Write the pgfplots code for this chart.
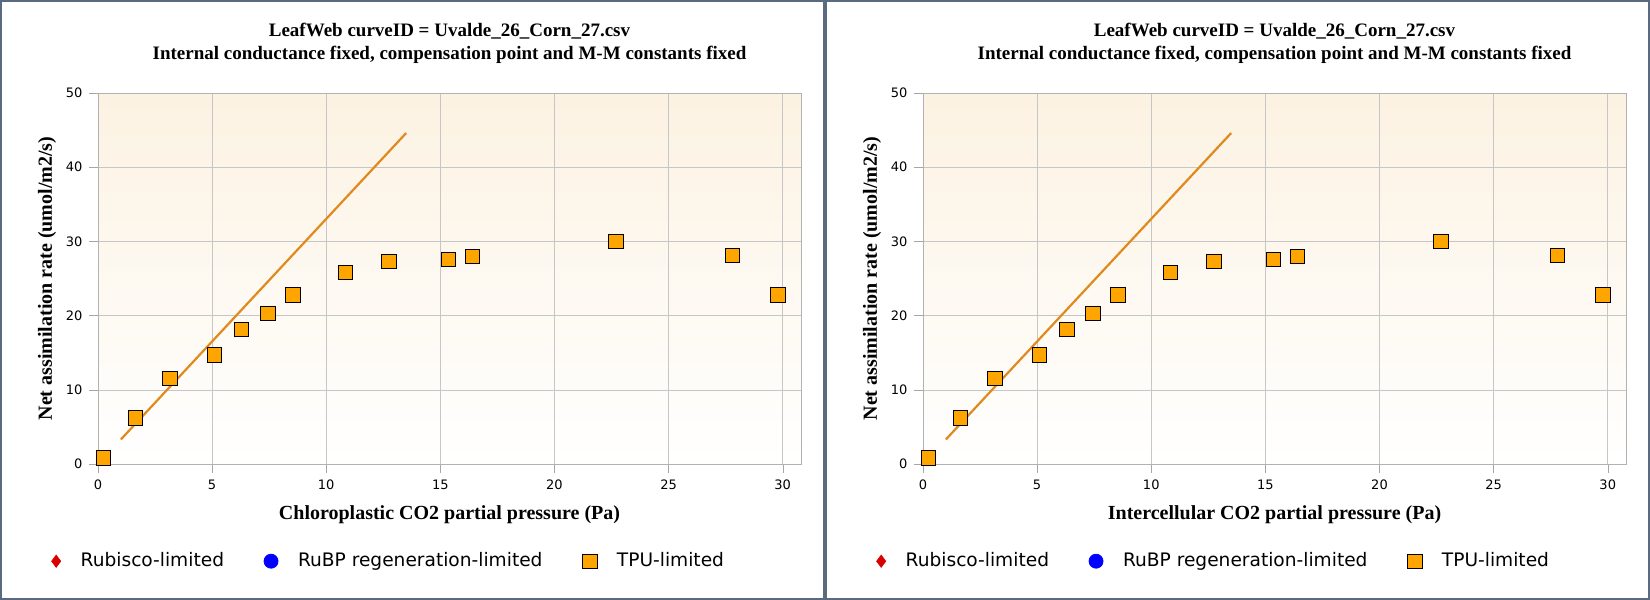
\documentclass[border=0pt]{standalone}
\usepackage{pgfplots}
\pgfplotsset{compat=1.18}
\usepackage{fontspec}
\setmainfont{Liberation Serif}
\newfontfamily\sans{DejaVu Sans}
\definecolor{frm}{HTML}{5A6A80}
\definecolor{ln}{HTML}{E08A1E}
\definecolor{sq}{HTML}{FFA500}
\definecolor{bg}{HTML}{FCF2E2}
\pgfplotstableread{
x y
0.25 0.8
1.65 6.2
3.15 11.5
5.1 14.7
6.3 18.1
7.45 20.3
8.55 22.8
10.85 25.8
12.75 27.3
15.35 27.6
16.4 28.0
22.7 30.0
27.8 28.1
29.8 22.8
}\pts
\pgfplotsset{myax/.style={
  scale only axis, width=351.5pt, height=185.5pt,
  xmin=0, xmax=30.8, ymin=0, ymax=50,
  xtick={0,5,...,30}, ytick={0,10,...,50},
  grid=major, grid style={gray!45, line width=0.3pt},
  axis line style={gray!60}, tick style={gray!70},
  tick align=outside, tick pos=left,
  ticklabel style={font=\sans\fontsize{6.5}{7}\selectfont},
  /pgf/number format/assume math mode=true,
  axis background/.style={top color=bg, bottom color=white},
  ylabel={\bfseries Net assimilation rate (umol/m2/s)},
  ylabel style={font=\fontsize{10}{11}\selectfont, yshift=-2pt},
  xlabel style={font=\fontsize{10}{11}\selectfont, yshift=-1pt},
  title style={font=\bfseries\fontsize{9.5}{11.5}\selectfont, align=center, yshift=5pt},
  title={LeafWeb curveID = Uvalde\_26\_Corn\_27.csv\\Internal conductance fixed, compensation point and M-M constants fixed},
  legend style={at={(-0.075,-0.262)}, anchor=west, draw=none, fill=none,
    font=\sans\fontsize{9.3}{10}\selectfont,
    /tikz/every odd column/.append style={column sep=8pt},
    /tikz/every even column/.append style={column sep=18pt}},
  legend columns=-1,
}}
\begin{document}
\begin{tikzpicture}[x=1pt,y=1pt]
\path[use as bounding box] (0,0) rectangle (825,300);
\draw[frm, line width=1pt] (0.5,0.5) rectangle (412,299.5);
\draw[frm, line width=1pt] (413,0.5) rectangle (824.5,299.5);
\foreach \ox/\lab in {49/Chloroplastic, 461.5/Intercellular}{
\begin{axis}[myax, at={(\ox pt,68pt)}, anchor=south west,
  xlabel={\bfseries \lab\ CO2 partial pressure (Pa)}]
\addlegendimage{only marks, mark=diamond*, mark size=3pt, color=red!85!black}
\addlegendentry{Rubisco-limited}
\addlegendimage{only marks, mark=*, mark size=3.5pt, color=blue}
\addlegendentry{RuBP regeneration-limited}
\addlegendimage{only marks, mark=square*, mark size=3.6pt, draw=black, fill=sq}
\addlegendentry{TPU-limited}
\addplot[ln, line width=1.1pt, forget plot] coordinates {(1,3.3) (13.5,44.6)};
\addplot[only marks, mark=square*, mark size=3.6pt, mark options={draw=black, fill=sq, line width=0.5pt}, forget plot] table {\pts};
\end{axis}
}
\end{tikzpicture}
\end{document}
